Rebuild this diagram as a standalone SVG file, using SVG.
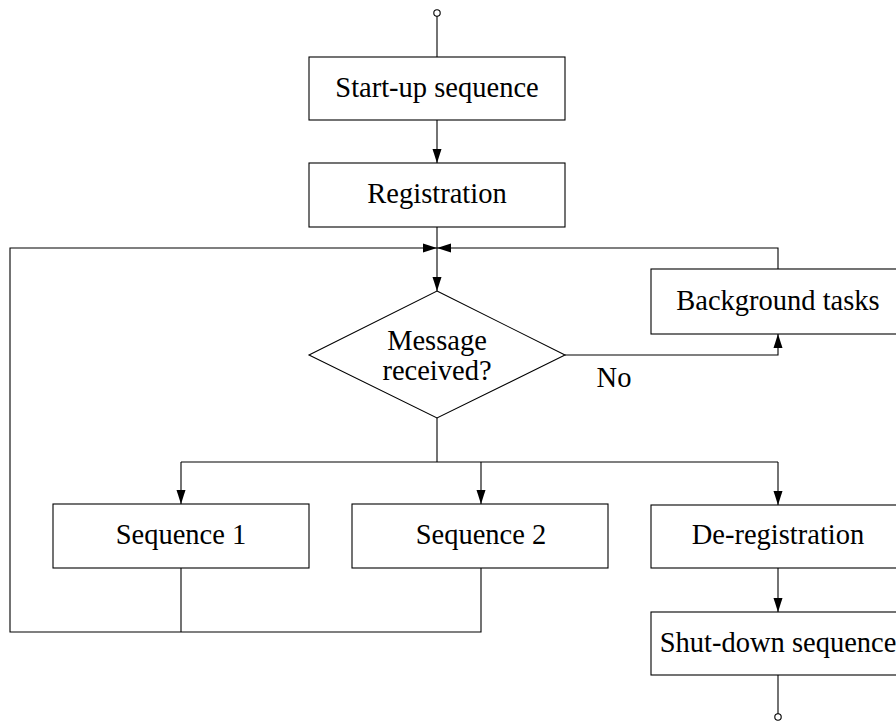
<svg xmlns="http://www.w3.org/2000/svg" width="896" height="722" viewBox="0 0 896 722">
<style>
.box{fill:#fff;stroke:#000;stroke-width:1.1}
.t{font-family:"Liberation Serif","Times New Roman",serif;font-size:28.5px;fill:#000;text-anchor:middle}
.c{fill:none;stroke:#000;stroke-width:1.1}
.a{marker-end:url(#ah)}
</style>
<defs>
<marker id="ah" markerWidth="14" markerHeight="11" refX="14" refY="5.5" orient="auto" markerUnits="userSpaceOnUse">
<path d="M0,1 L14,5.5 L0,10 Z" fill="#000"/>
</marker>
</defs>
<rect width="896" height="722" fill="#fff"/>
<g id="connectors">
<circle class="c" cx="437" cy="13" r="3.2"/>
<path class="c" d="M437,16 V57"/>
<path class="c a" d="M437,120 V163"/>
<path class="c a" d="M437,227 V291"/>
<path class="c a" d="M181,568 V632 M481,568 V632 H10 V248 H437"/>
<path class="c a" d="M778,269 V248 H437"/>
<path class="c a" d="M565,355 H778 V334"/>
<path class="c" d="M437,418 V462 M181,462 H778"/>
<path class="c a" d="M181,462 V504"/>
<path class="c a" d="M481,462 V504"/>
<path class="c a" d="M778,462 V505"/>
<path class="c a" d="M778,568 V612"/>
<path class="c" d="M778,675 V714"/>
<circle class="c" cx="778" cy="717" r="3.2"/>
<text class="t" x="614" y="387">No</text>
</g>
<g id="startup"><rect class="box" x="309" y="57" width="256" height="63"/><text class="t" x="437" y="97">Start-up sequence</text></g>
<g id="registration"><rect class="box" x="309" y="163" width="256" height="64"/><text class="t" x="437" y="203">Registration</text></g>
<g id="decision"><polygon class="box" points="437,291 565,355 437,418 309,355"/><text class="t" x="437" y="350">Message</text><text class="t" x="437" y="380">received?</text></g>
<g id="background"><rect class="box" x="651" y="269" width="256" height="65"/><text class="t" x="778" y="310">Background tasks</text></g>
<g id="seq1"><rect class="box" x="53" y="504" width="256" height="64"/><text class="t" x="181" y="544">Sequence 1</text></g>
<g id="seq2"><rect class="box" x="352" y="504" width="256" height="64"/><text class="t" x="481" y="544">Sequence 2</text></g>
<g id="dereg"><rect class="box" x="651" y="505" width="256" height="63"/><text class="t" x="778" y="544">De-registration</text></g>
<g id="shutdown"><rect class="box" x="651" y="612" width="256" height="63"/><text class="t" x="778" y="652">Shut-down sequence</text></g>
</svg>
